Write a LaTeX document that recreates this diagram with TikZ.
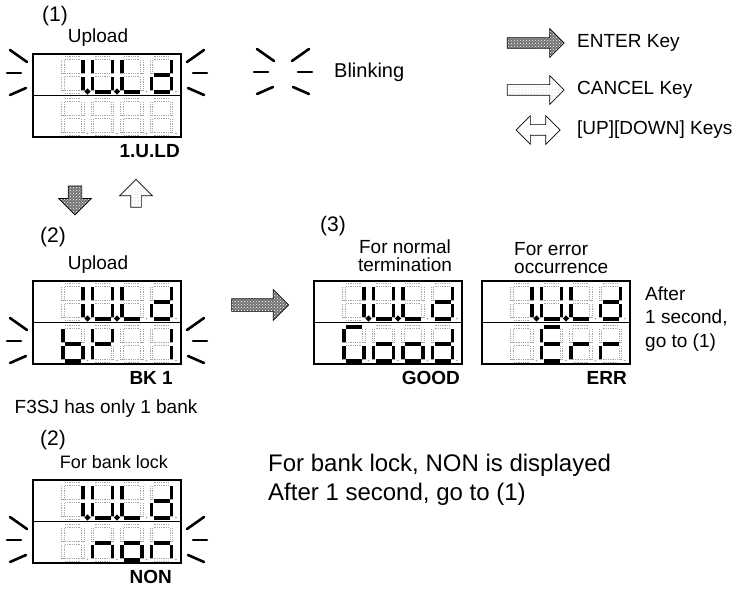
\documentclass[tikz,border=0pt]{standalone}
\usepackage{fontspec}
\setmainfont{Liberation Sans}
\usetikzlibrary{shapes.arrows,patterns}

\tikzset{
  sga/.style={insert path={(2,0)--(18,0)}},
  sgb/.style={insert path={(20,2)--(20,15)}},
  sgc/.style={insert path={(20,19)--(20,32)}},
  sgd/.style={insert path={(2,34)--(18,34)}},
  sge/.style={insert path={(0,19)--(0,32)}},
  sgf/.style={insert path={(0,2)--(0,15)}},
  sgg/.style={insert path={(2,17)--(18,17)}},
  sgp/.style={insert path={(24.5,33.5) circle (0.4)}},
  sgn/.style={},
  segdim/.style={gray!70,line width=3.4pt,dash pattern=on 0.7pt off 1.1pt},
  seghole/.style={white,line width=1.9pt},
  segon/.style={black,line width=3.8pt},
  lcdbox/.style={draw=black,line width=1.8pt,outer sep=0pt,anchor=north west,minimum width=148,minimum height=83},
  blink/.style={black,line width=2.6pt,line cap=round},
  enterkey/.style={single arrow,draw=black,line width=0.7pt,fill=black!55,postaction={pattern=crosshatch dots,pattern color=white}},
  cancelkey/.style={single arrow,draw=black,line width=0.7pt,fill=white,postaction={pattern=dots,pattern color=gray!60}},
  updownkey/.style={double arrow,draw=black,line width=0.7pt,fill=white},
  tag/.style={font=\fontsize{19}{22}\selectfont\bfseries},
  stepno/.style={font=\fontsize{21}{24}\selectfont},
}

\newcommand{\lcddigit}[3]{%
  \begin{scope}[shift={(#1,#2)}]
    \foreach \s in {a,b,c,d,e,f,g}{\draw[segdim,sg\s];\draw[seghole,sg\s];}
    \fill[gray!75] (24.5,33.5) circle (0.9);
    \foreach \s in #3{\draw[segon,sg\s];}
  \end{scope}}

\newcommand{\lcdpanel}[5]{%
  \node[lcdbox] (#1) at (#2,#3) {};
  \draw[black,line width=1.4pt] (#1.west) -- (#1.east);
  \foreach \d [count=\i from 0] in {#4}{\lcddigit{#2+30+\i*29.5}{#3+4}{\d}}
  \foreach \d [count=\i from 0] in {#5}{\lcddigit{#2+30+\i*29.5}{#3+46}{\d}}}

\newcommand{\blinkmarks}[3]{%
  \draw[blink] (#1-23,#3-23) -- (#1-6,#3-11);
  \draw[blink] (#1-26,#3) -- (#1-12,#3);
  \draw[blink] (#1-23,#3+22) -- (#1-7,#3+15);
  \draw[blink] (#2+6,#3-11) -- (#2+23,#3-23);
  \draw[blink] (#2+12,#3) -- (#2+26,#3);
  \draw[blink] (#2+7,#3+15) -- (#2+23,#3+22);}

\begin{document}
\begin{tikzpicture}[x=1pt,y=-1pt,font=\fontsize{19}{22}\selectfont,every node/.style={inner sep=0pt}]
  \useasboundingbox (0,0) rectangle (743,588);
  \fill[white] (0,0) rectangle (743,588);

  \node[stepno] (numA) at (55,16) {(1)};
  \node (upA) at (98,38) {Upload};
  \lcdpanel{lcdA}{33}{54}{{b,c,p},{b,c,d,e,f,p},{d,e,f},{b,c,d,e,g}}{n,n,n,n}
  \blinkmarks{33}{181}{73}
  \node[tag,anchor=east] (tagA) at (180,151) {1.U.LD};

  \blinkmarks{280}{286}{72}
  \node[anchor=west,font=\fontsize{20}{24}\selectfont] (blinktxt) at (334,72) {Blinking};

  \node[enterkey,inner xsep=5pt,inner ysep=5pt,single arrow head extend=9pt,minimum height=57] (legA) at (533,43) {};
  \node[anchor=west] (legAtxt) at (577,43) {ENTER Key};
  \node[cancelkey,inner xsep=5pt,inner ysep=5pt,single arrow head extend=9pt,minimum height=57] (legB) at (533,90) {};
  \node[anchor=west] (legBtxt) at (577,90) {CANCEL Key};
  \node[updownkey,inner xsep=5pt,inner ysep=5pt,double arrow head extend=9pt,minimum height=44] (legC) at (538,130) {};
  \node[anchor=west] (legCtxt) at (577,130) {[UP][DOWN] Keys};

  \node[enterkey,shape border rotate=270,inner xsep=6.5pt,inner ysep=6.5pt,single arrow head extend=9.5pt,minimum height=29] (dnkey) at (75,197) {};
  \node[cancelkey,shape border rotate=90,inner xsep=5pt,inner ysep=5pt,single arrow head extend=11pt,minimum height=28] (upkey) at (136,196) {};

  \node[stepno] (numB) at (53,237) {(2)};
  \node (upB) at (98,265) {Upload};
  \lcdpanel{lcdB}{33}{281}{{b,c,p},{b,c,d,e,f,p},{d,e,f},{b,c,d,e,g}}{{c,d,e,f,g},{b,e,f,g},n,{b,c}}
  \blinkmarks{33}{181}{341}
  \node[tag,anchor=east] (tagB) at (173,378) {BK 1};
  \node (noteB) at (106,409) {F3SJ has only 1 bank};

  \node[enterkey,inner xsep=6pt,inner ysep=6pt,single arrow head extend=9pt,minimum height=57] (gokey) at (257,305) {};

  \node[stepno] (numD) at (333,226) {(3)};
  \node[align=center,font=\fontsize{19}{18}\selectfont] (upD) at (405,256) {For normal\\termination};
  \lcdpanel{lcdD}{314}{281}{{b,c,p},{b,c,d,e,f,p},{d,e,f},{b,c,d,e,g}}{{a,c,d,e,f},{c,d,e,g},{c,d,e,g},{b,c,d,e,g}}
  \node[tag,anchor=east] (tagD) at (460,378) {GOOD};

  \node[align=left,anchor=west,font=\fontsize{19}{18}\selectfont] (upE) at (514,258) {For error\\occurrence};
  \lcdpanel{lcdE}{482}{281}{{b,c,p},{b,c,d,e,f,p},{d,e,f},{b,c,d,e,g}}{n,{a,d,e,f,g},{e,g},{e,g}}
  \node[tag,anchor=east] (tagE) at (627,378) {ERR};
  \node[align=left,anchor=west,font=\fontsize{19}{23.5}\selectfont] (noteE) at (645,319) {After\\1 second,\\go to (1)};

  \node[stepno] (numC) at (53,440) {(2)};
  \node[font=\fontsize{18}{22}\selectfont] (upC) at (114,462) {For bank lock};
  \lcdpanel{lcdC}{33}{480}{{b,c,p},{b,c,d,e,f,p},{d,e,f},{b,c,d,e,g}}{n,{c,e,g},{c,d,e,g},{c,e,g}}
  \blinkmarks{33}{181}{540}
  \node[tag,anchor=east] (tagC) at (172,577) {NON};
  \node[anchor=west,font=\fontsize{24}{29}\selectfont] (noteC) at (268,465) {For bank lock, NON is displayed};
  \node[anchor=west,font=\fontsize{24}{29}\selectfont] (noteD) at (268,494) {After 1 second, go to (1)};
\end{tikzpicture}
\end{document}
